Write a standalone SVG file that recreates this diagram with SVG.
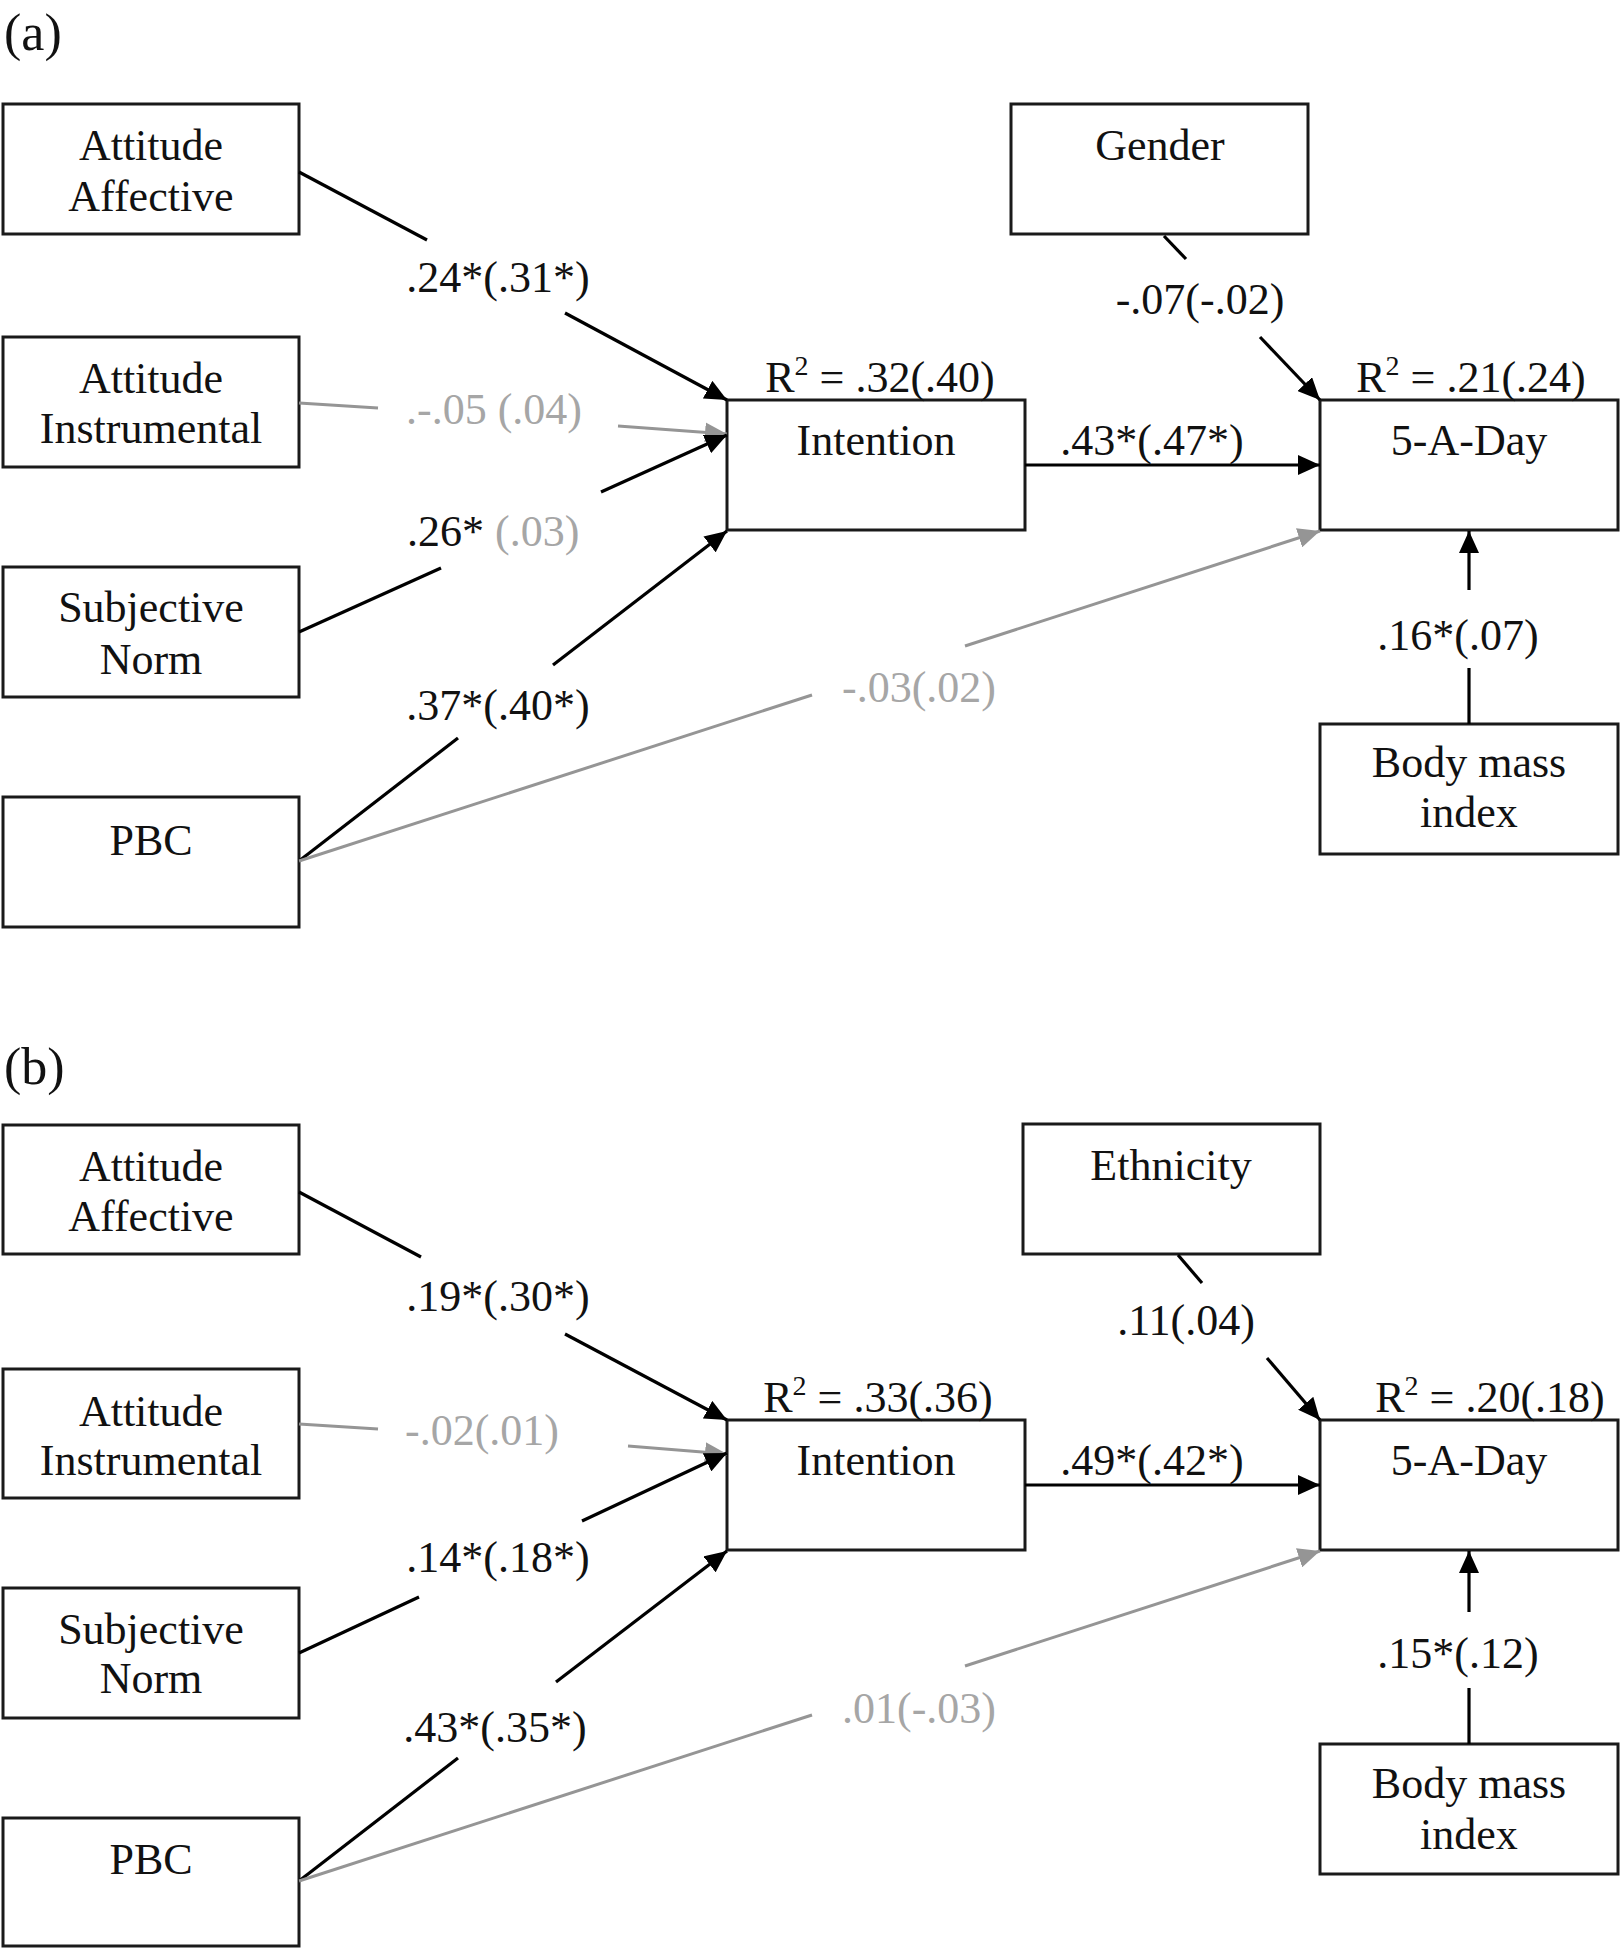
<svg xmlns="http://www.w3.org/2000/svg" width="1624" height="1950" viewBox="0 0 1624 1950">
<style>
text{font-family:"Liberation Serif","Times New Roman",serif;font-size:44px;fill:#111}
.node rect{fill:#fff;stroke:#1a1a1a;stroke-width:3}
.nt{text-anchor:middle}
.lbl{text-anchor:middle}
.g{fill:#a6a6a6}
.panel{font-size:52px}
.sup{font-size:28px}
.blk{stroke:#000;stroke-width:3.2;fill:none}
.gry{stroke:#959595;stroke-width:3;fill:none}
.ab{marker-end:url(#ab)}
.ag{marker-end:url(#ag)}
</style>
<defs>
<marker id="ab" markerUnits="userSpaceOnUse" markerWidth="23" markerHeight="20" refX="22" refY="10" orient="auto">
<path d="M0,0 L22,10 L0,20 Z" fill="#000"/>
</marker>
<marker id="ag" markerUnits="userSpaceOnUse" markerWidth="23" markerHeight="20" refX="22" refY="10" orient="auto">
<path d="M0,0 L22,10 L0,20 Z" fill="#959595"/>
</marker>
</defs>
<rect width="1624" height="1950" fill="#fff"/>

<text class="panel" x="4" y="50">(a)</text>
<text class="panel" x="4" y="1084">(b)</text>

<!-- Panel a nodes -->
<g id="a-att-aff" class="node"><rect x="3" y="104" width="296" height="130"/><text class="nt" x="151" y="160">Attitude</text><text class="nt" x="151" y="211">Affective</text></g>
<g id="a-att-ins" class="node"><rect x="3" y="337" width="296" height="130"/><text class="nt" x="151" y="393">Attitude</text><text class="nt" x="151" y="443">Instrumental</text></g>
<g id="a-subj" class="node"><rect x="3" y="567" width="296" height="130"/><text class="nt" x="151" y="622">Subjective</text><text class="nt" x="151" y="674">Norm</text></g>
<g id="a-pbc" class="node"><rect x="3" y="797" width="296" height="130"/><text class="nt" x="151" y="855">PBC</text></g>
<g id="a-intention" class="node"><rect x="727" y="400" width="298" height="130"/><text class="nt" x="876" y="455">Intention</text></g>
<g id="a-gender" class="node"><rect x="1011" y="104" width="297" height="130"/><text class="nt" x="1160" y="160">Gender</text></g>
<g id="a-5aday" class="node"><rect x="1320" y="400" width="298" height="130"/><text class="nt" x="1469" y="455">5-A-Day</text></g>
<g id="a-bmi" class="node"><rect x="1320" y="724" width="298" height="130"/><text class="nt" x="1469" y="777">Body mass</text><text class="nt" x="1469" y="827">index</text></g>

<!-- Panel b nodes -->
<g id="b-att-aff" class="node"><rect x="3" y="1125" width="296" height="129"/><text class="nt" x="151" y="1181">Attitude</text><text class="nt" x="151" y="1231">Affective</text></g>
<g id="b-att-ins" class="node"><rect x="3" y="1369" width="296" height="129"/><text class="nt" x="151" y="1426">Attitude</text><text class="nt" x="151" y="1475">Instrumental</text></g>
<g id="b-subj" class="node"><rect x="3" y="1588" width="296" height="130"/><text class="nt" x="151" y="1644">Subjective</text><text class="nt" x="151" y="1693">Norm</text></g>
<g id="b-pbc" class="node"><rect x="3" y="1818" width="296" height="128"/><text class="nt" x="151" y="1874">PBC</text></g>
<g id="b-intention" class="node"><rect x="727" y="1420" width="298" height="130"/><text class="nt" x="876" y="1475">Intention</text></g>
<g id="b-ethnicity" class="node"><rect x="1023" y="1124" width="297" height="130"/><text class="nt" x="1171" y="1180">Ethnicity</text></g>
<g id="b-5aday" class="node"><rect x="1320" y="1420" width="298" height="130"/><text class="nt" x="1469" y="1475">5-A-Day</text></g>
<g id="b-bmi" class="node"><rect x="1320" y="1744" width="298" height="130"/><text class="nt" x="1469" y="1798">Body mass</text><text class="nt" x="1469" y="1849">index</text></g>

<!-- R squared -->
<text x="880" y="392" class="lbl">R<tspan class="sup" dy="-17">2</tspan><tspan dy="17"> = .32(.40)</tspan></text>
<text x="1471" y="392" class="lbl">R<tspan class="sup" dy="-17">2</tspan><tspan dy="17"> = .21(.24)</tspan></text>
<text x="878" y="1412" class="lbl">R<tspan class="sup" dy="-17">2</tspan><tspan dy="17"> = .33(.36)</tspan></text>
<text x="1490" y="1412" class="lbl">R<tspan class="sup" dy="-17">2</tspan><tspan dy="17"> = .20(.18)</tspan></text>

<!-- Connectors -->
<g id="connectors">
<!-- panel a -->
<line class="blk" x1="299" y1="172" x2="427" y2="240"/><line class="blk ab" x1="565" y1="313" x2="727" y2="400"/>
<line class="gry" x1="299" y1="403" x2="378" y2="408"/><line class="gry ag" x1="618" y1="426" x2="727" y2="434"/>
<line class="blk" x1="299" y1="632" x2="441" y2="568"/><line class="blk ab" x1="601" y1="492" x2="727" y2="435"/>
<line class="blk" x1="299" y1="861" x2="458" y2="738"/><line class="blk ab" x1="553" y1="665" x2="727" y2="531"/>
<line class="gry" x1="299" y1="861" x2="812" y2="695"/><line class="gry ag" x1="965" y1="646" x2="1320" y2="531"/>
<line class="blk ab" x1="1025" y1="465" x2="1320" y2="465"/>
<line class="blk" x1="1164" y1="236" x2="1186" y2="259"/><line class="blk ab" x1="1260" y1="337" x2="1320" y2="400"/>
<line class="blk" x1="1469" y1="724" x2="1469" y2="668"/><line class="blk ab" x1="1469" y1="590" x2="1469" y2="531"/>
<!-- panel b -->
<line class="blk" x1="299" y1="1192" x2="421" y2="1257"/><line class="blk ab" x1="565" y1="1334" x2="727" y2="1420"/>
<line class="gry" x1="299" y1="1424" x2="378" y2="1429"/><line class="gry ag" x1="628" y1="1446" x2="727" y2="1454"/>
<line class="blk" x1="299" y1="1653" x2="419" y2="1597"/><line class="blk ab" x1="582" y1="1521" x2="727" y2="1453"/>
<line class="blk" x1="299" y1="1881" x2="458" y2="1758"/><line class="blk ab" x1="556" y1="1682" x2="727" y2="1551"/>
<line class="gry" x1="299" y1="1881" x2="812" y2="1715"/><line class="gry ag" x1="965" y1="1666" x2="1320" y2="1551"/>
<line class="blk ab" x1="1025" y1="1485" x2="1320" y2="1485"/>
<line class="blk" x1="1178" y1="1255" x2="1202" y2="1283"/><line class="blk ab" x1="1267" y1="1358" x2="1320" y2="1420"/>
<line class="blk" x1="1469" y1="1744" x2="1469" y2="1688"/><line class="blk ab" x1="1469" y1="1612" x2="1469" y2="1551"/>

<!-- labels a -->
<text class="lbl" x="498" y="292">.24*(.31*)</text>
<text class="lbl g" x="494" y="424">.-.05 (.04)</text>
<text x="407" y="546">.26*<tspan class="g"> (.03)</tspan></text>
<text class="lbl" x="498" y="720">.37*(.40*)</text>
<text class="lbl g" x="919" y="702">-.03(.02)</text>
<text class="lbl" x="1152" y="455">.43*(.47*)</text>
<text class="lbl" x="1200" y="314">-.07(-.02)</text>
<text class="lbl" x="1458" y="650">.16*(.07)</text>
<!-- labels b -->
<text class="lbl" x="498" y="1311">.19*(.30*)</text>
<text class="lbl g" x="482" y="1445">-.02(.01)</text>
<text class="lbl" x="498" y="1572">.14*(.18*)</text>
<text class="lbl" x="495" y="1742">.43*(.35*)</text>
<text class="lbl g" x="919" y="1723">.01(-.03)</text>
<text class="lbl" x="1152" y="1475">.49*(.42*)</text>
<text class="lbl" x="1186" y="1335">.11(.04)</text>
<text class="lbl" x="1458" y="1668">.15*(.12)</text>
</g>
</svg>
